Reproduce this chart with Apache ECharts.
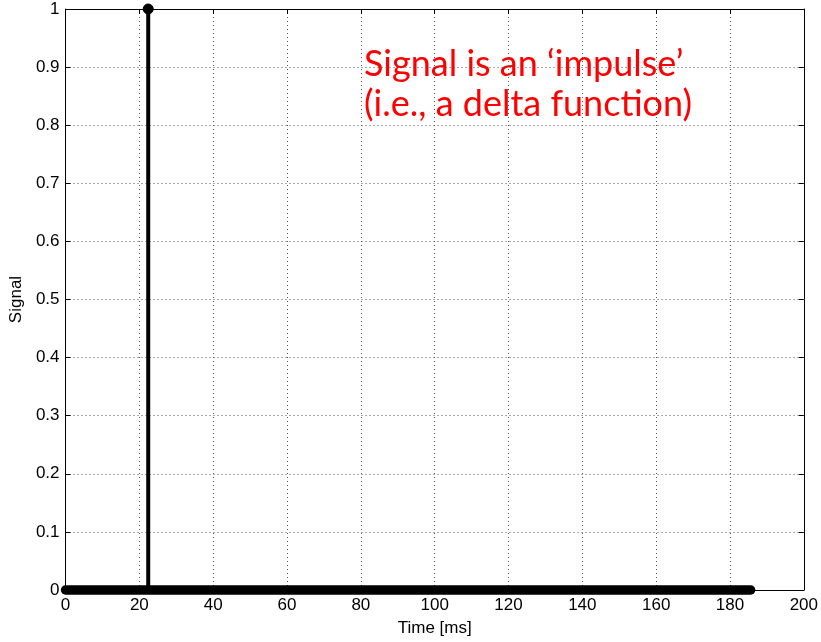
<!DOCTYPE html>
<html>
<head>
<meta charset="utf-8">
<script src="https://cdn.jsdelivr.net/npm/echarts@6/dist/echarts.min.js"></script>
<style>
  html, body { margin: 0; padding: 0; background: #fff; }
  #chart { width: 821px; height: 642px; }
</style>
</head>
<body>
<div id="chart"></div>
<script>
// Axis ranges and ticks
var xTicks = [0, 20, 40, 60, 80, 100, 120, 140, 160, 180, 200];
var yTicks = [0, 0.1, 0.2, 0.3, 0.4, 0.5, 0.6, 0.7, 0.8, 0.9, 1];

// Recorded signal: zero everywhere over the record except one impulse
var recordSpan = [0, 185.6];      // ms, first and last sample time
var impulseTime = [22.4];        // ms
var impulseValue = [1];

var annotation = ['Signal is an \u2018impulse\u2019', '(i.e., a delta function)'];

var chart = echarts.init(document.getElementById('chart'), null, { renderer: 'canvas' });

var axisFont = 'Liberation Sans, Arial, Helvetica, sans-serif';
var gridLine = { show: true, lineStyle: { color: '#555', width: 1, type: [1, 3] } };

function xAxisBase(pos, labels, split) {
  return {
    type: 'value', position: pos, min: xTicks[0], max: xTicks[xTicks.length - 1], interval: 20,
    axisLine: { show: true, onZero: false, lineStyle: { color: '#000', width: 1 } },
    axisTick: { show: true, inside: true, length: 5, lineStyle: { color: '#000' } },
    axisLabel: { show: labels, color: '#000', fontSize: 17, fontFamily: axisFont, margin: 7 },
    splitLine: split ? gridLine : { show: false }
  };
}
function yAxisBase(pos, labels, split) {
  return {
    type: 'value', position: pos, min: yTicks[0], max: yTicks[yTicks.length - 1], interval: 0.1,
    axisLine: { show: true, onZero: false, lineStyle: { color: '#000', width: 1 } },
    axisTick: { show: true, inside: true, length: 5, lineStyle: { color: '#000' } },
    axisLabel: { show: labels, color: '#000', fontSize: 17, fontFamily: axisFont, margin: 6,
                 formatter: function (v) { return String(Math.round(v * 10) / 10); } },
    splitLine: split ? gridLine : { show: false }
  };
}

var xMain = xAxisBase('bottom', true, true);
xMain.name = 'Time [ms]';
xMain.nameLocation = 'middle';
xMain.nameGap = 30;
xMain.nameTextStyle = { color: '#000', fontSize: 17, fontFamily: axisFont };

var yMain = yAxisBase('left', true, true);
yMain.name = 'Signal';
yMain.nameLocation = 'middle';
yMain.nameGap = 40;
yMain.nameTextStyle = { color: '#000', fontSize: 17, fontFamily: axisFont };

var option = {
  backgroundColor: '#fff',
  animation: false,
  grid: { left: 64, right: 17, top: 9, bottom: 50, containLabel: false },
  xAxis: [xMain, xAxisBase('top', false, false)],
  yAxis: [yMain, yAxisBase('right', false, false)],
  series: [
    {
      // zero-valued samples across the record, drawn as a heavy baseline
      type: 'line',
      data: [[recordSpan[0], 0], [recordSpan[1], 0]],
      showSymbol: false,
      symbol: 'none',
      clip: false,
      lineStyle: { color: '#000', width: 9.5, cap: 'round' },
      z: 3
    },
    {
      // the impulse stem with its marker
      type: 'line',
      data: [
        { value: [impulseTime[0], 0], symbol: 'none' },
        { value: [impulseTime[0], impulseValue[0]], symbol: 'circle', symbolSize: 10 }
      ],
      clip: false,
      lineStyle: { color: '#000', width: 4 },
      itemStyle: { color: '#000', borderColor: '#000', borderWidth: 1 },
      z: 4
    }
  ],
  graphic: [
    {
      type: 'text', left: 364, top: 46,
      style: { text: annotation[0], fill: '#ff0000', font: '36px Lato, "Open Sans", sans-serif' }
    },
    {
      type: 'text', left: 364, top: 86,
      style: { text: annotation[1], fill: '#ff0000', font: '36px Lato, "Open Sans", sans-serif' }
    }
  ]
};

chart.setOption(option);
</script>
</body>
</html>
